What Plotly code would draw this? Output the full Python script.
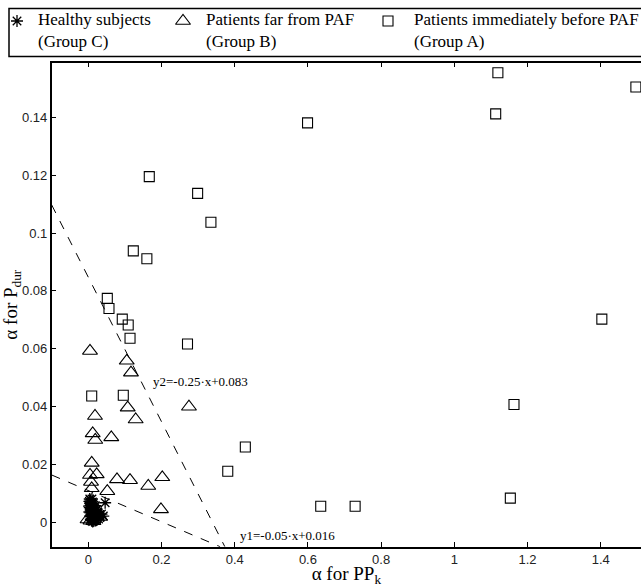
import plotly.graph_objects as go

# ---- data ----
healthy_x = [0.003, 0.005, 0.006, 0.004, 0.007, 0.009, 0.010, 0.008, 0.012, 0.011,
             0.006, 0.013, 0.014, 0.009, 0.015, 0.016, 0.012, 0.017, 0.005, 0.008,
             0.018, 0.019, 0.020, 0.014, 0.010, 0.021, 0.022, 0.016, 0.023, 0.024,
             0.007, 0.013, 0.011, 0.004, 0.006, 0.017, 0.019, 0.025, 0.026, 0.028,
             0.015, 0.009, 0.012, 0.020, 0.003, 0.002, 0.018, 0.022, 0.027, 0.030,
             0.033, 0.041, 0.046, 0.036, 0.010, 0.008, 0.014, 0.016, 0.021, 0.011]
healthy_y = [0.0072, 0.0065, 0.0058, 0.0050, 0.0047, 0.0061, 0.0054, 0.0040, 0.0045, 0.0036,
             0.0032, 0.0052, 0.0030, 0.0027, 0.0041, 0.0034, 0.0022, 0.0026, 0.0021, 0.0018,
             0.0038, 0.0019, 0.0031, 0.0014, 0.0012, 0.0024, 0.0043, 0.0008, 0.0015, 0.0028,
             0.0010, 0.0063, 0.0070, 0.0080, 0.0076, 0.0049, 0.0057, 0.0036, 0.0020, 0.0011,
             0.0004, 0.0005, 0.0002, 0.0006, 0.0035, 0.0055, 0.0012, 0.0009, 0.0032, 0.0025,
             0.0018, 0.0021, 0.0067, 0.0028, 0.0080, 0.0066, 0.0058, 0.0018, 0.0040, 0.0027]

far_x = [0.0046, 0.105, 0.1166, 0.1076, 0.275, 0.0183, 0.1294, 0.012, 0.0628, 0.019,
         0.0093, 0.0046, 0.0229, 0.0074, 0.0093, 0.0519, 0.0784, 0.1139, 0.1638, 0.2021,
         0.1985, -0.002, 0.032, 0.014, 0.006]
far_y = [0.0592, 0.0558, 0.0517, 0.0396, 0.0399, 0.0367, 0.0355, 0.0307, 0.0293, 0.0284,
         0.0205, 0.0163, 0.0165, 0.0139, 0.0117, 0.0107, 0.0148, 0.0145, 0.0125, 0.0155,
         0.0044, 0.0009, 0.0018, 0.0003, 0.0005]

before_x = [1.119, 1.496, 1.113, 0.599, 0.1666, 0.2987, 0.335, 0.1229, 0.160, 0.0519,
            0.0565, 0.0928, 0.109, 0.114, 0.271, 0.0093, 0.0956, 1.403, 1.163, 0.429,
            0.381, 1.153, 0.729, 0.635]
before_y = [0.1554, 0.1505, 0.1412, 0.1381, 0.1195, 0.1137, 0.1037, 0.0938, 0.0911, 0.0774,
            0.0739, 0.0702, 0.0682, 0.0636, 0.0616, 0.0436, 0.0439, 0.0702, 0.0407, 0.0260,
            0.0176, 0.0083, 0.0055, 0.0055]

# boundary lines (end points)
line2_x = [-0.1, 0.373]
line2_y = [0.1097, -0.0085]
line1_x = [-0.1, 0.36]
line1_y = [0.0163, -0.0085]

x_ticks = [0, 0.2, 0.4, 0.6, 0.8, 1.0, 1.2, 1.4]
x_ticktext = ["0", "0.2", "0.4", "0.6", "0.8", "1", "1.2", "1.4"]
y_ticks = [0, 0.02, 0.04, 0.06, 0.08, 0.10, 0.12, 0.14]
y_ticktext = ["0", "0.02", "0.04", "0.06", "0.08", "0.1", "0.12", "0.14"]

legend_names = ["Healthy subjects<br>(Group C)", "Patients far from PAF<br>(Group B)",
                "Patients immediately before PAF<br>(Group A)"]

W, H = 641, 587
XR = [-0.1, 1.51]
YR = [-0.0085, 0.1589]
plot_l, plot_t, plot_b = 51.7, 62.7, 546.7
xdom = [plot_l / W, 1.0]
ydom = [1 - plot_b / H, 1 - plot_t / H]
LEG_H = 60  # pixel height of the legend strip helper axis

SERIF = "Liberation Serif, Times New Roman, serif"
SANS = "Liberation Sans, Arial, sans-serif"

fig = go.Figure()

dash_style = dict(color="black", width=1, dash="dash")
fig.add_trace(go.Scatter(x=line2_x, y=line2_y, mode="lines", line=dash_style,
                         showlegend=False, hoverinfo="skip"))
fig.add_trace(go.Scatter(x=line1_x, y=line1_y, mode="lines", line=dash_style,
                         showlegend=False, hoverinfo="skip"))

m_before = dict(symbol="square-open", size=10, color="black", line=dict(width=1.1, color="black"))
m_far = dict(symbol="triangle-up-open", size=13, color="black", line=dict(width=1.1, color="black"))
m_healthy = dict(symbol="asterisk-open", size=10, color="black", line=dict(width=1.3, color="black"))

fig.add_trace(go.Scatter(x=before_x, y=before_y, mode="markers", marker=m_before,
                         name="Group A", showlegend=False))
fig.add_trace(go.Scatter(x=far_x, y=far_y, mode="markers", marker=m_far,
                         name="Group B", showlegend=False))
fig.add_trace(go.Scatter(x=healthy_x, y=healthy_y, mode="markers", marker=m_healthy,
                         name="Group C", showlegend=False))

# legend keys drawn on a pixel-space helper axis covering the legend strip
leg_sym_x = [17, 183, 388]
leg_sym_y = [21, 21, 21]
leg_markers = [m_healthy, m_far, m_before]
for lx, ly, mk in zip(leg_sym_x, leg_sym_y, leg_markers):
    fig.add_trace(go.Scatter(x=[lx], y=[ly], xaxis="x2", yaxis="y2", mode="markers",
                             marker=mk, showlegend=False, hoverinfo="skip"))

leg_text_x = [36, 204, 412]
for tx, name in zip(leg_text_x, legend_names):
    fig.add_annotation(x=tx / W, y=1 - 8 / H, xref="paper", yref="paper",
                       xanchor="left", yanchor="top", text=name, showarrow=False,
                       align="left", font=dict(family=SERIF, size=17, color="black"))

# legend frame
fig.add_shape(type="rect", xref="paper", yref="paper", x0=9 / W, x1=1.02,
              y0=1 - 56.5 / H, y1=1 - 8.5 / H, line=dict(color="black", width=1.5))

# line equations
fig.add_annotation(x=0.17, y=0.0485, xref="x", yref="y", text="y2=-0.25·x+0.083",
                   showarrow=False, xanchor="left", yanchor="middle",
                   font=dict(family=SERIF, size=13, color="black"))
fig.add_annotation(x=0.41, y=-0.0045, xref="x", yref="y", text="y1=-0.05·x+0.016",
                   showarrow=False, xanchor="left", yanchor="middle",
                   font=dict(family=SERIF, size=13, color="black"))

axis_common = dict(showgrid=False, zeroline=False, ticks="inside", ticklen=5,
                   tickwidth=1, tickcolor="black", showline=True, linecolor="black",
                   linewidth=1.5, tickfont=dict(family=SANS, size=13, color="#222"))

fig.update_layout(
    width=W, height=H,
    margin=dict(l=0, r=0, t=0, b=0),
    paper_bgcolor="white", plot_bgcolor="white",
    showlegend=False,
    xaxis=dict(domain=xdom, range=XR, tickvals=x_ticks, ticktext=x_ticktext,
               anchor="y", mirror="ticks",
               title=dict(text="α for PP<sub>k</sub>", standoff=2,
                          font=dict(family=SERIF, size=19, color="black")),
               **axis_common),
    yaxis=dict(domain=ydom, range=YR, tickvals=y_ticks, ticktext=y_ticktext,
               anchor="x",
               title=dict(text="α for P<sub>dur</sub>", standoff=4,
                          font=dict(family=SERIF, size=19, color="black")),
               **axis_common),
    xaxis2=dict(domain=[0, 1], range=[0, W], anchor="y2", visible=False, fixedrange=True),
    yaxis2=dict(domain=[1 - LEG_H / H, 1], range=[LEG_H, 0], anchor="x2", visible=False,
                fixedrange=True),
)

fig.write_html("out.html")
